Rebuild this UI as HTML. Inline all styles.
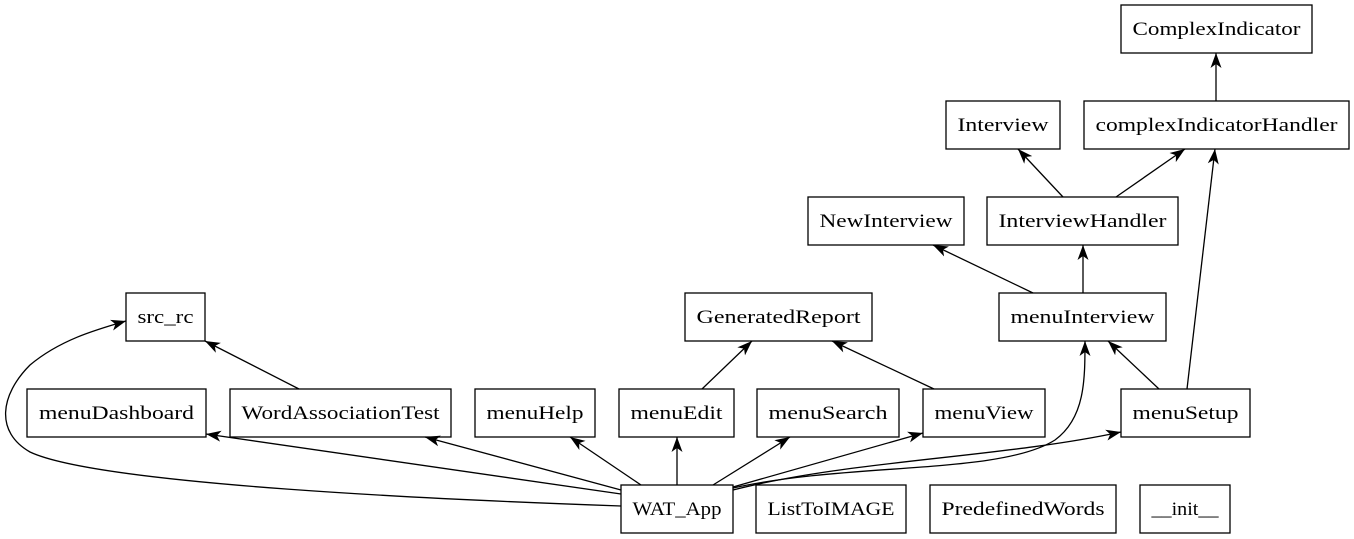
<!DOCTYPE html>
<html><head><meta charset="utf-8"><style>
html,body{margin:0;padding:0;background:#fff;}
svg{display:block;}
text{font-family:"Liberation Serif",serif;font-size:19px;fill:#000;}
</style></head><body>
<svg width="1354" height="539" viewBox="0 0 1354 539" xmlns="http://www.w3.org/2000/svg">
<defs>
<marker id="a" markerUnits="userSpaceOnUse" markerWidth="16" markerHeight="12" viewBox="0 -6 16 12" refX="15" refY="0" orient="auto">
<path d="M0,-5.5 L15,0 L0,5.5 L4,0 Z" fill="#000"/>
</marker>
</defs>
<g fill="#fff" stroke="#000" stroke-width="1.3">
<rect x="1121" y="5" width="191" height="48"/>
<rect x="946" y="101" width="114" height="48"/>
<rect x="1084" y="101" width="265" height="48"/>
<rect x="808" y="197" width="156" height="48"/>
<rect x="987" y="197" width="191" height="48"/>
<rect x="126" y="293" width="79" height="48"/>
<rect x="685" y="293" width="187" height="48"/>
<rect x="999" y="293" width="167" height="48"/>
<rect x="27" y="389" width="179" height="48"/>
<rect x="230" y="389" width="221" height="48"/>
<rect x="475" y="389" width="120" height="48"/>
<rect x="619" y="389" width="115" height="48"/>
<rect x="757" y="389" width="142" height="48"/>
<rect x="923" y="389" width="122" height="48"/>
<rect x="1121" y="389" width="129" height="48"/>
<rect x="621" y="485" width="112" height="48"/>
<rect x="756" y="485" width="150" height="48"/>
<rect x="930" y="485" width="186" height="48"/>
<rect x="1140" y="485" width="90" height="48"/>
</g>
<g fill="none" stroke="#000" stroke-width="1.3" marker-end="url(#a)">
<path d="M621,506 C450,500 100,485 30,452 C-5,432 0,395 30,365 C60,340 95,330 126,321"/>
<path d="M621,494 L206,434"/>
<path d="M621,490 L425,437"/>
<path d="M641,485 L570,437"/>
<path d="M677,485 L677,437"/>
<path d="M713,485 L790,437"/>
<path d="M733,487 L923,433"/>
<path d="M733,488 C850,462 1000,475 1055,440 C1085,418 1085,380 1085,341"/>
<path d="M733,490 C850,460 1000,458 1121,432"/>
<path d="M299,389 L205,341"/>
<path d="M702,389 L752,341"/>
<path d="M934,389 L832,341"/>
<path d="M1159,389 L1108,341"/>
<path d="M1187,389 L1215,149"/>
<path d="M1033,293 L933,245"/>
<path d="M1083,293 L1083,245"/>
<path d="M1063,197 L1018,149"/>
<path d="M1116,197 L1185,149"/>
<path d="M1216,101 L1216,53"/>
</g>
<g text-anchor="middle" lengthAdjust="spacingAndGlyphs">
<text x="1216.5" y="35" textLength="168" lengthAdjust="spacingAndGlyphs">ComplexIndicator</text>
<text x="1003" y="131" textLength="91" lengthAdjust="spacingAndGlyphs">Interview</text>
<text x="1216.5" y="131" textLength="242" lengthAdjust="spacingAndGlyphs">complexIndicatorHandler</text>
<text x="886" y="227" textLength="133" lengthAdjust="spacingAndGlyphs">NewInterview</text>
<text x="1082.5" y="227" textLength="168" lengthAdjust="spacingAndGlyphs">InterviewHandler</text>
<text x="165.5" y="323" textLength="56" lengthAdjust="spacingAndGlyphs">src_rc</text>
<text x="778.5" y="323" textLength="164" lengthAdjust="spacingAndGlyphs">GeneratedReport</text>
<text x="1082.5" y="323" textLength="144" lengthAdjust="spacingAndGlyphs">menuInterview</text>
<text x="116.5" y="419" textLength="155" lengthAdjust="spacingAndGlyphs">menuDashboard</text>
<text x="340.5" y="419" textLength="198" lengthAdjust="spacingAndGlyphs">WordAssociationTest</text>
<text x="535" y="419" textLength="97" lengthAdjust="spacingAndGlyphs">menuHelp</text>
<text x="676.5" y="419" textLength="92" lengthAdjust="spacingAndGlyphs">menuEdit</text>
<text x="828" y="419" textLength="119" lengthAdjust="spacingAndGlyphs">menuSearch</text>
<text x="984" y="419" textLength="99" lengthAdjust="spacingAndGlyphs">menuView</text>
<text x="1185.5" y="419" textLength="106" lengthAdjust="spacingAndGlyphs">menuSetup</text>
<text x="677" y="515" textLength="89" lengthAdjust="spacingAndGlyphs">WAT_App</text>
<text x="831" y="515" textLength="127" lengthAdjust="spacingAndGlyphs">ListToIMAGE</text>
<text x="1023" y="515" textLength="163" lengthAdjust="spacingAndGlyphs">PredefinedWords</text>
<text x="1185" y="515" textLength="67" lengthAdjust="spacingAndGlyphs">__init__</text>
</g>
</svg>
</body></html>
